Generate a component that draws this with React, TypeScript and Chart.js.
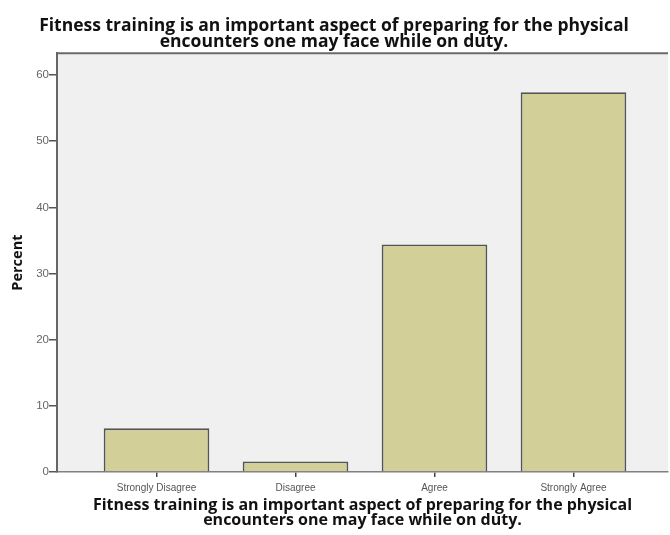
import React, { useEffect, useRef } from "react";
import { Chart, registerables } from "chart.js";

Chart.register(...registerables);

const categories = ["Strongly Disagree", "Disagree", "Agree", "Strongly Agree"];
const percents = [6.6, 1.6, 34.4, 57.4];
const yTicks = [0, 10, 20, 30, 40, 50, 60];
const titleLines = [
  "Fitness training is an important aspect of preparing for the physical",
  "encounters one may face while on duty.",
];
const yTitle = "Percent";

const FONT = "'Liberation Sans', Arial, sans-serif";
const TITLE_FONT = "'Open Sans', 'Liberation Sans', sans-serif";

const plotBg = {
  id: "plotBg",
  beforeDraw(chart: any) {
    const { ctx, chartArea: a } = chart;
    ctx.save();
    ctx.fillStyle = "#f0f0f0";
    ctx.fillRect(a.left, a.top, a.right - a.left, a.bottom - a.top);
    ctx.strokeStyle = "#6a6a6a";
    ctx.lineWidth = 2;
    ctx.beginPath();
    ctx.moveTo(a.left, a.top);
    ctx.lineTo(a.right, a.top);
    ctx.stroke();
    ctx.restore();
  },
};

export default function App() {
  const ref = useRef<HTMLCanvasElement | null>(null);

  useEffect(() => {
    if (!ref.current) return;
    const chart = new Chart(ref.current, {
      type: "bar",
      data: {
        datasets: [
          {
            data: percents.map((y, i) => ({ x: i, y })),
            backgroundColor: "#d3cf98",
            borderColor: "#555",
            borderWidth: 1.8,
            barPercentage: 0.76,
            categoryPercentage: 1,
          },
        ],
      },
      options: {
        responsive: false,
        animation: false,
        layout: { padding: { left: 0, right: 2, top: 0, bottom: 0 } },
        plugins: {
          legend: { display: false },
          tooltip: { enabled: false },
          title: {
            display: true,
            text: titleLines,
            color: "#111",
            font: { family: TITLE_FONT, size: 17.5, weight: "bold", lineHeight: 0.92 },
            padding: { top: 18, bottom: 3 },
          },
        },
        scales: {
          x: {
            type: "linear",
            offset: false,
            min: -0.716,
            max: 3.68,
            afterBuildTicks(scale: any) {
              scale.ticks = categories.map((_, i) => ({ value: i }));
            },
            afterFit(scale: any) {
              scale.height = 63;
            },
            ticks: {
              autoSkip: false,
              maxRotation: 0,
              color: "#555",
              font: { family: FONT, size: 10 },
              padding: 5,
              callback: (v: any) => categories[v] ?? "",
            },
            grid: {
              offset: false,
              drawOnChartArea: false,
              drawTicks: true,
              tickLength: 5,
              color: "#444",
              lineWidth: 1.5,
            },
            border: { display: true, color: "#808080", width: 1.5 },
            title: {
              display: true,
              text: titleLines,
              color: "#111",
              font: { family: TITLE_FONT, size: 16, weight: "bold", lineHeight: 0.96 },
              padding: { top: 2, bottom: 7 },
            },
          },
          y: {
            min: 0,
            max: 63.3,
            afterBuildTicks(scale: any) {
              scale.ticks = yTicks.map((v) => ({ value: v }));
            },
            afterFit(scale: any) {
              scale.width = 57;
            },
            ticks: {
              color: "#666",
              font: { family: FONT, size: 11.5 },
              padding: 0,
            },
            grid: {
              drawOnChartArea: false,
              drawTicks: true,
              tickLength: 8,
              color: "#555",
              lineWidth: 1.5,
            },
            border: { display: true, color: "#666", width: 2 },
            title: {
              display: true,
              text: yTitle,
              color: "#111",
              font: { family: TITLE_FONT, size: 14.5, weight: "bold" },
              padding: { top: 9, bottom: 0 },
            },
          },
        },
      },
      plugins: [plotBg],
    } as any);
    return () => chart.destroy();
  }, []);

  return (
    <div style={{ position: "fixed", left: 0, top: 0, width: 670, height: 535, background: "#fff" }}>
      <canvas ref={ref} width={670} height={535} style={{ display: "block" }} />
    </div>
  );
}
